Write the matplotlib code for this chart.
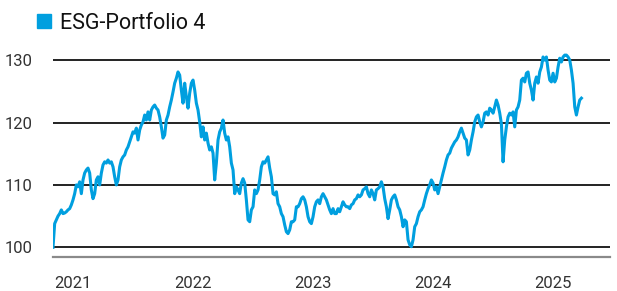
import numpy as np
import pandas as pd
import matplotlib
matplotlib.use('Agg')
import matplotlib.pyplot as plt
import matplotlib.dates as mdates
from matplotlib.lines import Line2D

plt.rcParams['font.family'] = ['Roboto', 'DejaVu Sans']

# index values, roughly every 5 days from Nov 2020 to end of Mar 2025
vals_a = [100, 103.8, 104.4, 105, 105.4, 106, 105.4, 105.5, 105.7, 106, 106.2, 106.8, 107.6, 108.6,
          110, 109.7, 110.5, 108.6, 110.8, 111.9, 112.4, 112.7, 111.9, 109.2, 107.8, 108.6, 110.8,
          111.3, 110, 111.9, 113.2, 113.7, 113.5, 114, 113.5, 113.7, 112.9, 111.3, 110, 110.8, 112.9,
          114, 114.5, 114.8, 115.6, 116.1, 116.9, 117.7, 118.5, 118.3, 119.1, 117.2, 118.8, 119.6,
          120.1, 121.2]
vals_b = [120.4, 121.7, 120.4, 122, 122.5, 122.8, 122.3, 122, 120.9, 119.3, 117.5, 118, 120.4, 121.2,
          122.5, 123.6, 124.9, 126.3, 127.1, 128.1, 127.6, 125.2, 123.1, 126.3, 124.1, 122.3, 124.7,
          126.3, 126.8, 125.2, 123.1, 122, 120.1, 117.7, 119.3, 117.2, 118.3, 116.7, 115.6, 116.1,
          115.1, 110.8, 113.5, 117.2, 118.5, 119.1, 120.4, 118.3, 117.2, 117.7, 116.1, 113.5, 112.4,
          108.6, 109.7, 109.2, 108.6]
vals_c = [110.3, 111, 110.3, 107.6, 104.4, 104.1, 106, 106.5, 109.2, 108.6, 109.2, 110.8, 112.9, 113.7,
          113.5, 114, 114.5, 112.7, 111.3, 108.6, 108.4, 108.9, 107, 106.5, 105.4, 104.9, 103.6, 102.5,
          102.2, 102.8, 104.1, 104.1, 104.4, 106.5, 106.5, 107, 107.8, 108.1, 107.6, 106.5, 104.9,
          104.1, 103.8, 104.9, 106.5, 107.3, 107.6, 107, 108.1, 108.6, 108.1, 107.6, 106.8, 106, 105.4,
          106.2, 105.4]
vals_d = [105.4, 106.2, 105.7, 106.5, 107.3, 106.8, 106.5, 106.5, 106.2, 106.8, 107, 107.6, 107.8, 108.4,
          108.1, 108.4, 109.2, 109.4, 109.7, 108.6, 108.1, 109.2, 108.6, 107.6, 109.2, 109.4, 109.7,
          110.5, 109.7, 107.8, 106.5, 104.6, 106, 107.6, 108.1, 108.4, 107.6, 106.5, 106, 104.9, 103.3,
          104.4, 104.1, 101.2, 100.4, 100.1, 101.2, 103.3, 103.8, 104.9, 105.7, 106, 106.5, 107.6,
          108.6, 109.4, 110]
vals_e = [110.8, 110.3, 109.2, 109.7, 108.6, 109.7, 110.8, 111.9, 112.9, 114, 114.8, 115.1, 115.9, 116.4,
          116.9, 117.2, 117.7, 118.5, 119.1, 118.3, 117.5, 117.2, 114.8, 115.6, 117.2, 118.5, 120.1,
          120.9, 121.2, 120.1, 119.3, 120.1, 121.5, 121.7, 121.2, 122.3, 122, 121.5, 122.5, 123.6,
          122.8, 121.5, 119.8, 113.7, 117.2, 119.3, 120.9, 121.5, 121.2, 121.7, 119.3, 122, 122.5,
          123.6, 126.8, 127.1, 126.5]
vals_f = [127.9, 128.1, 126.3, 125.2, 123.6, 126.3, 127.3, 126.3, 128.1, 128.9, 130.5, 130, 130.5, 128.4,
          126.8, 126.5, 127.9, 126.5, 127.1, 128.9, 130.3, 129.7, 130.5, 130.8, 130.8, 130.5, 130,
          128.4, 126.3, 122.5, 121.2, 122.5, 123.6, 123.9]

values = vals_a + vals_b + vals_c + vals_d + vals_e + vals_f
dates = pd.date_range('2020-11-01', '2025-03-28', periods=len(values))

series_name = 'ESG-Portfolio 4'
yticks = [100, 110, 120, 130]
years = [2021, 2022, 2023, 2024, 2025]

blue = '#009fdf'

fig = plt.figure(figsize=(6.17, 2.91), dpi=100)
ax = fig.add_axes([53/617, 1-257/291, 557/617, (257-44.5)/291])

for y in yticks:
    ax.axhline(y, color='#111111', lw=1.3, zorder=1)

ax.plot(dates, values, color=blue, lw=2.2, zorder=3, solid_joinstyle='round')

ax.set_xlim(pd.Timestamp('2020-11-01'), pd.Timestamp('2025-06-23'))
ax.set_ylim(98.45, 132.5)

ax.set_yticks(yticks)
ax.set_yticklabels([str(v) for v in yticks])
ax.set_xticks([pd.Timestamp(f'{y}-01-01') for y in years])
ax.set_xticklabels([str(y) for y in years])
ax.tick_params(axis='both', length=0, labelsize=12, labelcolor='#333333')
ax.tick_params(axis='y', pad=15)
ax.tick_params(axis='x', pad=14)

for s in ['top', 'right', 'left']:
    ax.spines[s].set_visible(False)
ax.spines['bottom'].set_color('#8a8a8a')
ax.spines['bottom'].set_linewidth(1.6)

handle = Line2D([], [], marker='s', ls='', color=blue, markersize=10)
ax.legend([handle], [series_name], loc='upper left', bbox_to_anchor=(18/617, 1.0),
          bbox_transform=fig.transFigure, frameon=False, fontsize=15.5,
          handletextpad=0.15, handlelength=1.2, borderaxespad=0.2, labelcolor='#111111')

fig.savefig('out.png', dpi=100)
